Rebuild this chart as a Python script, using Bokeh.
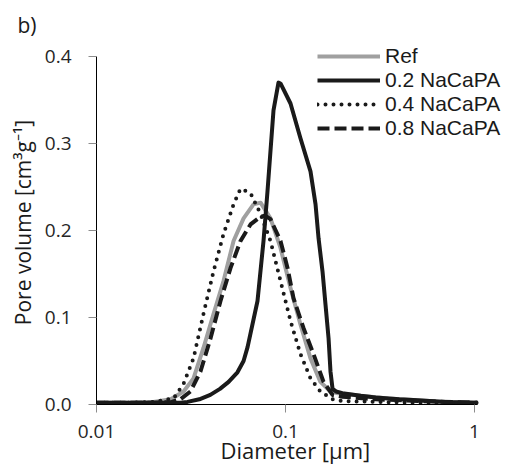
from bokeh.plotting import figure
from bokeh.models import Range1d, FixedTicker, Legend, LegendItem, Title
from bokeh.embed import file_html
from bokeh.resources import INLINE

# ---- data ----
ref_x = [0.01, 0.015, 0.02, 0.0247, 0.0289, 0.0326, 0.0368, 0.0416, 0.047, 0.0531, 0.06, 0.0677, 0.0738,
         0.0833, 0.0941, 0.1063, 0.12, 0.1356, 0.153, 0.1731, 0.19, 0.25, 0.35, 0.5, 0.7, 1.037]
ref_y = [0.002, 0.002, 0.003, 0.006, 0.015, 0.030, 0.065, 0.104, 0.142, 0.188, 0.214, 0.230, 0.232,
         0.214, 0.180, 0.134, 0.092, 0.053, 0.026, 0.015, 0.013, 0.010, 0.007, 0.005, 0.003, 0.002]

na02_x = [0.01, 0.02, 0.0278, 0.0303, 0.035, 0.04, 0.045, 0.05, 0.0557, 0.06, 0.063, 0.0711, 0.0765, 0.0803,
          0.0864, 0.0918, 0.0941, 0.1063, 0.12, 0.1356, 0.1442, 0.1496, 0.157, 0.1628, 0.169, 0.173, 0.1774,
          0.185, 0.2, 0.25, 0.3, 0.4, 0.5, 0.7, 1.037]
na02_y = [0.002, 0.002, 0.002, 0.003, 0.006, 0.011, 0.018, 0.026, 0.037, 0.050, 0.066, 0.119, 0.188, 0.245,
          0.338, 0.370, 0.369, 0.346, 0.306, 0.268, 0.230, 0.191, 0.153, 0.115, 0.076, 0.038, 0.018,
          0.015, 0.013, 0.010, 0.008, 0.006, 0.005, 0.003, 0.002]

na04_x = [0.01, 0.015, 0.02, 0.0256, 0.0289, 0.0326, 0.0368, 0.0416, 0.047, 0.0531, 0.0578, 0.0653, 0.0738,
          0.0833, 0.0941, 0.1063, 0.12, 0.1356, 0.153, 0.1774, 0.2, 0.3, 0.5, 1.037]
na04_y = [0.002, 0.002, 0.003, 0.007, 0.024, 0.053, 0.104, 0.153, 0.196, 0.230, 0.248, 0.243, 0.219,
          0.188, 0.142, 0.096, 0.058, 0.030, 0.015, 0.006, 0.004, 0.003, 0.002, 0.002]

na08_x = [0.01, 0.02, 0.025, 0.0278, 0.0314, 0.0355, 0.0401, 0.0453, 0.0512, 0.0578, 0.0653, 0.0738, 0.078,
          0.0833, 0.0941, 0.1025, 0.1103, 0.1245, 0.1406, 0.159, 0.1774, 0.2, 0.3, 0.5, 1.037]
na08_y = [0.002, 0.002, 0.003, 0.006, 0.015, 0.038, 0.076, 0.119, 0.157, 0.188, 0.207, 0.216, 0.217,
          0.213, 0.188, 0.157, 0.122, 0.088, 0.058, 0.026, 0.011, 0.009, 0.006, 0.004, 0.002]

series_labels = ["Ref", "0.2 NaCaPA", "0.4 NaCaPA", "0.8 NaCaPA"]
x_ticks = [0.01, 0.1, 1]
x_tick_labels = ["0.01", "0.1", "1"]
y_ticks = [0.0, 0.1, 0.2, 0.3, 0.4]
x_bounds = (0.01, 1.037)
y_bounds = (0.0, 0.4)

FONT = "Open Sans"

# frame: left 96 .. right 507, top 40 .. bottom 404 (0.4 at y=56, 1 at x=474)
p = figure(width=507, height=474, x_axis_type="log",
           x_range=Range1d(0.01, 1.495), y_range=Range1d(0, 0.4184),
           output_backend="svg", toolbar_location=None,
           min_border_left=96, min_border_right=0, min_border_top=40, min_border_bottom=70)
p.outline_line_color = None
p.grid.visible = False
p.background_fill_color = "white"
p.border_fill_color = "white"

r_ref = p.line(ref_x, ref_y, line_color="#a0a0a0", line_width=4, line_join="round")
r_02 = p.line(na02_x, na02_y, line_color="#1a1a1a", line_width=4, line_join="round")
r_04 = p.line(na04_x, na04_y, line_color="#1a1a1a", line_width=4, line_dash="0 8", line_cap="round",
              line_join="round")
r_08 = p.line(na08_x, na08_y, line_color="#1a1a1a", line_width=4, line_dash="12 5", line_join="round")

# axes
xa = p.xaxis[0]
xa.ticker = FixedTicker(ticks=x_ticks, minor_ticks=[])
xa.major_label_overrides = {t: s for t, s in zip(x_ticks, x_tick_labels)}
xa.bounds = x_bounds
ya = p.yaxis[0]
ya.ticker = FixedTicker(ticks=y_ticks, minor_ticks=[])
ya.major_label_overrides = {t: f"{t:.1f}" for t in y_ticks}
ya.bounds = y_bounds

for ax in (xa, ya):
    ax.axis_line_color = "black"
    ax.axis_line_width = 1
    ax.major_tick_line_color = "#8c8c8c"
    ax.major_tick_line_width = 1
    ax.major_tick_in = 0
    ax.major_tick_out = 8
    ax.minor_tick_line_color = None
    ax.major_label_text_font = FONT
    ax.major_label_text_font_size = "19px"
    ax.major_label_text_color = "#262626"
    ax.axis_label_text_font = FONT
    ax.axis_label_text_font_style = "normal"
    ax.axis_label_text_color = "#1a1a1a"

xa.major_label_standoff = 12
ya.axis_label = "Pore volume [cm³g⁻¹]"
ya.axis_label_text_font_size = "21px"
ya.major_label_standoff = 17
ya.axis_label_standoff = 5

# x-axis title (placed below the axis, left-aligned at the reference position)
p.add_layout(Title(text="Diameter [µm]", align="left", offset=124, vertical_align="top",
                   standoff=-11, text_font=FONT, text_font_size="22px", text_font_style="normal",
                   text_color="#1a1a1a"), "below")

# panel tag "b)"
p.title.text = "b)"
p.title.align = "left"
p.title.offset = -79
p.title.standoff = 4
p.title.text_font = FONT
p.title.text_font_size = "21px"
p.title.text_font_style = "normal"
p.title.text_color = "#1a1a1a"

legend = Legend(items=[LegendItem(label=series_labels[0], renderers=[r_ref]),
                       LegendItem(label=series_labels[1], renderers=[r_02]),
                       LegendItem(label=series_labels[2], renderers=[r_04]),
                       LegendItem(label=series_labels[3], renderers=[r_08])],
                location=(221, 264))
legend.label_text_font = "Liberation Sans"
legend.label_text_font_size = "21px"
legend.label_text_color = "#1a1a1a"
legend.glyph_width = 63
legend.glyph_height = 24
legend.label_height = 24
legend.label_standoff = 5
legend.spacing = 0
legend.padding = 0
legend.margin = 0
legend.border_line_color = None
legend.background_fill_alpha = 0
p.add_layout(legend, "center")

open("out.html", "w").write(file_html(p, INLINE))
